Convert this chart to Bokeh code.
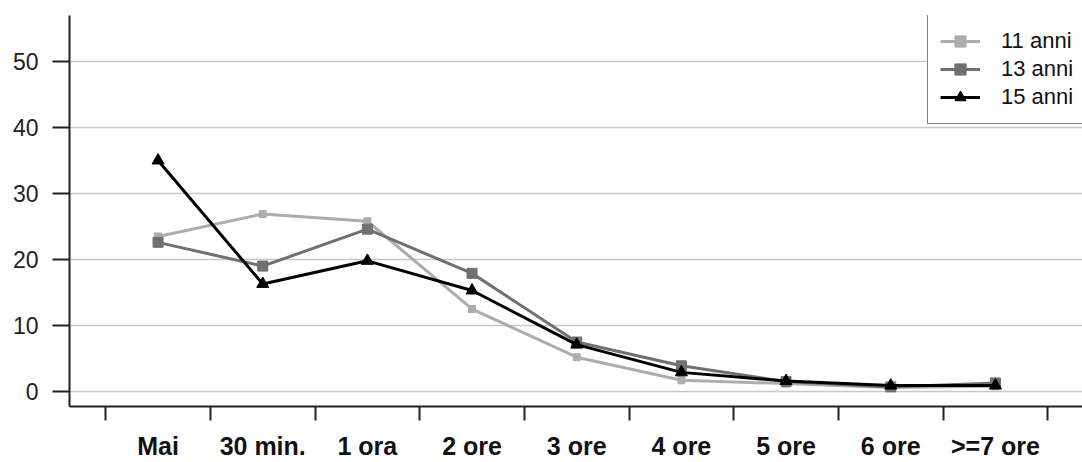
from bokeh.plotting import figure
from bokeh.models import FixedTicker, Range1d, Legend, LegendItem
from bokeh.embed import file_html
from bokeh.resources import INLINE

# ---- data ----
categories = ["Mai", "30 min.", "1 ora", "2 ore", "3 ore", "4 ore", "5 ore", "6 ore", ">=7 ore"]
anni_11 = [23.5, 26.9, 25.8, 12.5, 5.2, 1.7, 1.2, 0.6, 0.8]
anni_13 = [22.6, 19.0, 24.6, 17.9, 7.5, 3.9, 1.5, 0.7, 1.3]
anni_15 = [35.0, 16.3, 19.8, 15.3, 7.1, 2.9, 1.6, 0.9, 0.9]
series_names = ["11 anni", "13 anni", "15 anni"]
y_ticks = [0, 10, 20, 30, 40, 50]

FONT = "Liberation Sans"

x_centers = [i + 0.5 for i in range(len(categories))]
x_bounds = list(range(len(categories) + 1))

p = figure(width=1082, height=462, output_backend="svg", toolbar_location=None,
           x_range=Range1d(-0.346, 9.332), y_range=Range1d(-2.27, 56.97),
           min_border_left=69, min_border_right=0, min_border_top=15, min_border_bottom=56)
p.outline_line_color = None
p.background_fill_color = "white"

# grid
p.xgrid.visible = False
yt = FixedTicker(ticks=y_ticks)
p.ygrid.ticker = yt
p.ygrid.grid_line_color = "#c8c8c8"
p.ygrid.grid_line_width = 1.5

# y axis
ya = p.yaxis[0]
ya.ticker = yt
ya.axis_line_color = "#222222"
ya.axis_line_width = 2
ya.major_tick_out = 17
ya.major_tick_in = 0
ya.major_tick_line_width = 2
ya.major_tick_line_color = "#222222"
ya.minor_tick_line_color = None
ya.major_label_standoff = 14
ya.major_label_text_font = FONT
ya.major_label_text_font_size = "23px"
ya.major_label_text_color = "#222222"

# x axis: labels at category centres, ticks at category boundaries
xa = p.xaxis[0]
xa.ticker = FixedTicker(ticks=x_centers, minor_ticks=x_bounds)
xa.major_label_overrides = {c: lab for c, lab in zip(x_centers, categories)}
xa.axis_line_color = "#222222"
xa.axis_line_width = 2
xa.major_tick_out = 0
xa.major_tick_in = 0
xa.major_tick_line_color = None
xa.minor_tick_out = 14
xa.minor_tick_in = 0
xa.minor_tick_line_width = 2
xa.minor_tick_line_color = "#222222"
xa.major_label_standoff = 11
xa.major_label_text_font = FONT
xa.major_label_text_font_size = "25px"
xa.major_label_text_font_style = "bold"
xa.major_label_text_color = "#111111"

styles = [
    (anni_11, "#adadad", "square", 7),
    (anni_13, "#707070", "square", 10),
    (anni_15, "#000000", "triangle", 12),
]
items = []
for name, (vals, color, marker, size) in zip(series_names, styles):
    r1 = p.line(x_centers, vals, line_color=color, line_width=3)
    r2 = p.scatter(x_centers, vals, marker=marker, size=size,
                   fill_color=color, line_color=color)
    items.append(LegendItem(label=name, renderers=[r1, r2]))

legend = Legend(items=items, location=(858, 282),
                border_line_color="black", border_line_width=1,
                background_fill_color="white", background_fill_alpha=1.0,
                padding=12, spacing=0, margin=0,
                glyph_width=40, glyph_height=28, label_height=28,
                label_standoff=21,
                label_text_font=FONT, label_text_font_size="22px",
                label_text_color="#111111")
p.add_layout(legend)

open("out.html", "w").write(file_html(p, INLINE))
